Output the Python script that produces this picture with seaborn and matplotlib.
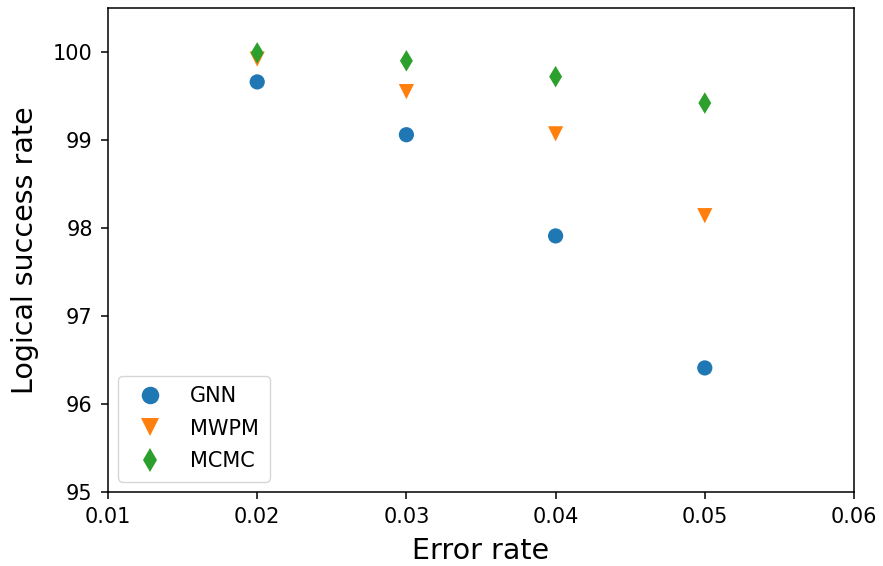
import matplotlib
matplotlib.use("Agg")
import matplotlib.pyplot as plt
import pandas as pd
import seaborn as sns

error_rates = [0.02, 0.03, 0.04, 0.05]
gnn = [99.66, 99.06, 97.91, 96.41]
mwpm = [99.92, 99.55, 99.07, 98.14]
mcmc = [99.99, 99.90, 99.72, 99.42]

methods = ["GNN", "MWPM", "MCMC"]
df = pd.concat([
    pd.DataFrame({"Error rate": error_rates, "rate": vals, "Method": name})
    for name, vals in zip(methods, [gnn, mwpm, mcmc])
], ignore_index=True)

sns.set_style("ticks", {"text.color": "black", "axes.labelcolor": "black",
                        "xtick.color": "black", "ytick.color": "black",
                        "axes.edgecolor": "black"})
plt.rcParams["font.family"] = ["DejaVu Sans"]

fig = plt.figure(figsize=(8.83, 5.66), dpi=100)
ax = fig.add_axes([108 / 883, 1 - 492 / 566, (854 - 108) / 883, (492 - 8) / 566])

sns.scatterplot(data=df, x="Error rate", y="rate", hue="Method", style="Method",
                markers={"GNN": "o", "MWPM": "v", "MCMC": "d"},
                palette=["#1f77b4", "#ff7f0e", "#2ca02c"], s=120, linewidth=0, ax=ax)

ax.set_xlim(0.01, 0.06)
ax.set_ylim(95, 100.5)
ax.set_xticks([0.01, 0.02, 0.03, 0.04, 0.05, 0.06])
ax.set_yticks([95, 96, 97, 98, 99, 100])
ax.set_xlabel("Error rate", fontsize=20.5, labelpad=7)
ax.set_ylabel("Logical success rate", fontsize=20.5, labelpad=10)
ax.tick_params(labelsize=15, length=5, width=1.1, pad=6)
for sp in ax.spines.values():
    sp.set_linewidth(1.1)
ax.legend(loc="lower left", fontsize=15, handletextpad=0.95, borderpad=0.5,
          labelspacing=0.6, markerscale=1.15, edgecolor="#cccccc")

fig.savefig("out.png", dpi=100)
